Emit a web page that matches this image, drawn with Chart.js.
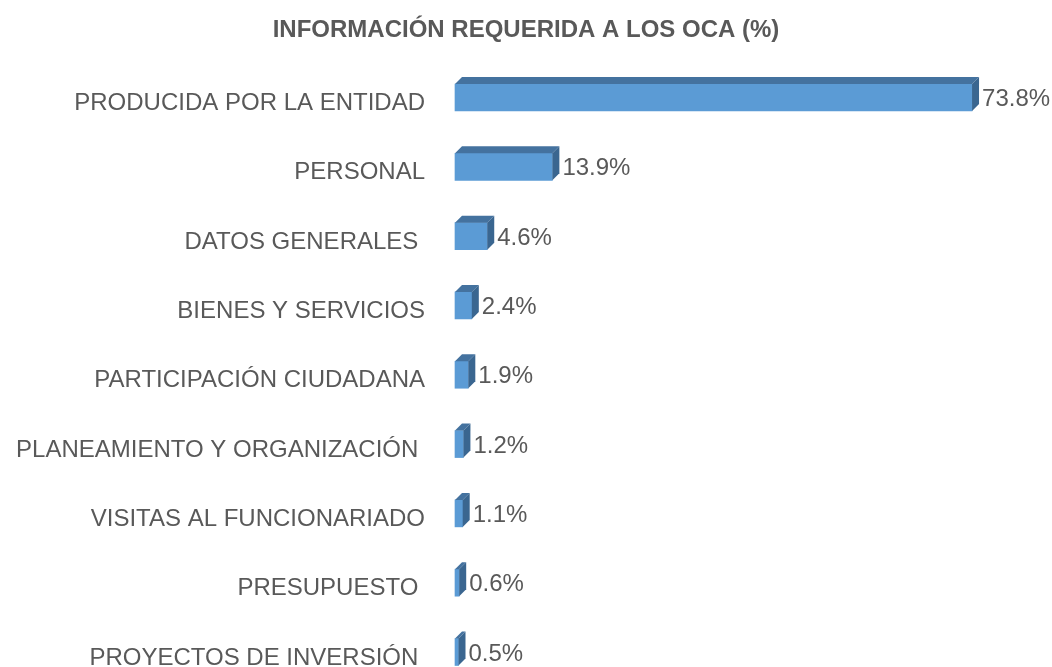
<!DOCTYPE html>
<html>
<head>
<meta charset="utf-8">
<script src="https://cdn.jsdelivr.net/npm/chart.js@4.4.1/dist/chart.umd.min.js"></script>
<style>
  body { margin: 0; background: #fff; }
  #wrap { width: 1052px; height: 667px; }
</style>
</head>
<body>
<div id="wrap"><canvas id="bars"></canvas></div>
<script>
// categories and values (%)
var categories = [
  'PRODUCIDA POR LA ENTIDAD',
  'PERSONAL',
  'DATOS GENERALES ',
  'BIENES Y SERVICIOS',
  'PARTICIPACIÓN CIUDADANA',
  'PLANEAMIENTO Y ORGANIZACIÓN ',
  'VISITAS AL FUNCIONARIADO',
  'PRESUPUESTO ',
  'PROYECTOS DE INVERSIÓN '
];
var values = [73.8, 13.9, 4.6, 2.4, 1.9, 1.2, 1.1, 0.6, 0.5];

var DEPTH = 7;
var FONT = '"Liberation Sans", Arial, sans-serif';

// draws top and side faces plus the value labels
var bars3d = {
  id: 'bars3d',
  afterDatasetsDraw: function (chart) {
    var c = chart.ctx;
    var meta = chart.getDatasetMeta(0);
    c.save();
    meta.data.forEach(function (bar, i) {
      var p = bar.getProps(['x', 'y', 'base', 'height'], true);
      var left = p.base, right = p.x;
      var top = p.y - p.height / 2, bottom = p.y + p.height / 2;
      // top face
      c.fillStyle = '#44729f';
      c.beginPath();
      c.moveTo(left, top);
      c.lineTo(left + DEPTH, top - DEPTH);
      c.lineTo(right + DEPTH, top - DEPTH);
      c.lineTo(right, top);
      c.closePath();
      c.fill();
      // side face
      c.fillStyle = '#3a6690';
      c.beginPath();
      c.moveTo(right, top);
      c.lineTo(right + DEPTH, top - DEPTH);
      c.lineTo(right + DEPTH, bottom - DEPTH);
      c.lineTo(right, bottom);
      c.closePath();
      c.fill();
      // value label
      c.fillStyle = '#595959';
      c.font = '24px ' + FONT;
      c.textAlign = 'left';
      c.textBaseline = 'middle';
      c.fillText(values[i].toFixed(1) + '%', right + DEPTH + 3, p.y + 2);
    });
    c.restore();
  }
};

new Chart(document.getElementById('bars'), {
  type: 'bar',
  data: {
    labels: categories,
    datasets: [{
      data: values,
      backgroundColor: '#5b9bd5',
      borderWidth: 0,
      barThickness: 27,
      clip: false
    }]
  },
  options: {
    indexAxis: 'y',
    responsive: true,
    maintainAspectRatio: false,
    animation: false,
    layout: { padding: { left: 12, right: 12, top: 0, bottom: 15 } },
    plugins: {
      legend: { display: false },
      tooltip: { enabled: false },
      title: {
        display: true,
        text: 'INFORMACIÓN REQUERIDA A LOS OCA (%)',
        color: '#595959',
        font: { family: FONT, size: 24, weight: 'bold' },
        padding: { top: 15.6, bottom: 53.1 }
      }
    },
    scales: {
      x: { display: false, min: 0, max: 83.5 },
      y: {
        offset: false,
        grid: { display: false },
        border: { display: false },
        ticks: {
          color: '#595959',
          padding: 22,
          labelOffset: 6,
          font: { family: FONT, size: 24 }
        },
        afterFit: function (scale) {
          scale.width = 443;
          scale.paddingTop = 0;
          scale.paddingBottom = 0;
        }
      }
    }
  },
  plugins: [bars3d]
});
</script>
</body>
</html>
